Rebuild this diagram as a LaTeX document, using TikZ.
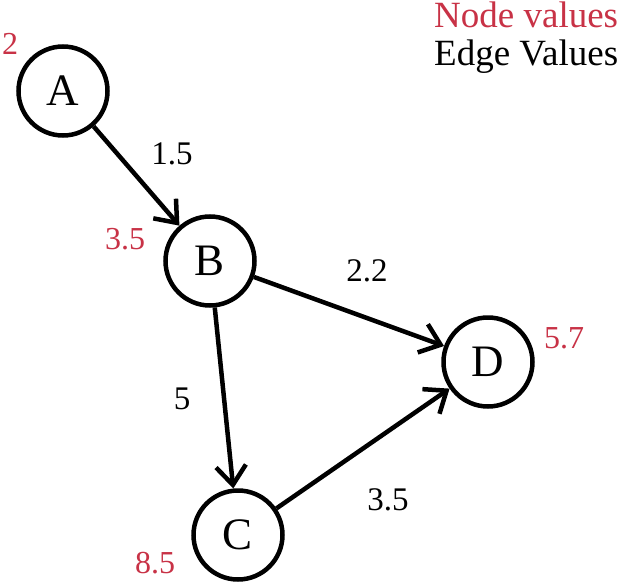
\documentclass[tikz,border=0pt]{standalone}
\usepackage{fontspec}
\setmainfont{Liberation Serif}
\usetikzlibrary{arrows.meta}
\definecolor{valred}{RGB}{200,50,70}
\begin{document}
\begin{tikzpicture}[x=1pt,y=-1pt,
  vertex/.style={circle,draw,line width=4.5pt,minimum size=89pt,inner sep=0pt,font=\fontsize{45}{45}\selectfont},
  edgeline/.style={line width=4.5pt,-{Straight Barb[length=19pt,width=30pt]}},
  elabel/.style={font=\fontsize{33}{33}\selectfont},
  nlabel/.style={font=\fontsize{32}{32}\selectfont,text=valred},
  legend/.style={font=\fontsize{37}{37}\selectfont,anchor=base west,inner sep=0pt}]
\useasboundingbox (0,0) rectangle (626,586);
\node[vertex] (A) at (63,91) {A};
\node[vertex] (B) at (210,261) {B};
\node[vertex] (D) at (488,362) {D};
\node[vertex] (C) at (238,535) {C};
\draw[edgeline] (A) -- (B);
\draw[edgeline] (B) -- (D);
\draw[edgeline] (B) -- (C);
\draw[edgeline] (C) -- (D);
\node[elabel] (l1) at (172,154) {1.5};
\node[elabel] (l2) at (367,271) {2.2};
\node[elabel] (l3) at (182,399) {5};
\node[elabel] (l4) at (388,500) {3.5};
\node[nlabel] (vA) at (10,44) {2};
\node[nlabel] (vB) at (125,239) {3.5};
\node[nlabel] (vD) at (564,338) {5.7};
\node[nlabel] (vC) at (155,563) {8.5};
\node[legend,text=valred] (lg1) at (434,28) {Node values};
\node[legend] (lg2) at (434,66) {Edge Values};
\end{tikzpicture}
\end{document}
